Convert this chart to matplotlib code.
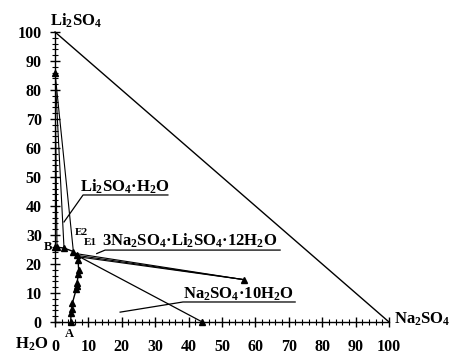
import matplotlib
matplotlib.use("Agg")
import matplotlib.pyplot as plt
from matplotlib.ticker import MultipleLocator

plt.rcParams['font.family'] = ['Liberation Serif', 'DejaVu Serif']
plt.rcParams['font.weight'] = 'bold'
plt.rcParams['mathtext.fontset'] = 'custom'
plt.rcParams['mathtext.rm'] = 'Liberation Serif:bold'
plt.rcParams['mathtext.it'] = 'Liberation Serif:bold'
plt.rcParams['mathtext.bf'] = 'Liberation Serif:bold'
plt.rcParams['mathtext.default'] = 'rm'

# Solution compositions (Na2SO4 %, Li2SO4 %)
sol_na = [4.7, 4.8, 5.0, 5.2, 6.4, 6.5, 6.6, 7.0, 7.1, 6.9, 6.5, 5.5, 2.7, 0.6, 0.0]
sol_li = [0.0, 3.0, 4.5, 6.5, 11.5, 12.5, 13.5, 16.5, 17.8, 21.3, 23.0, 24.3, 25.5, 25.8, 25.8]

# Solid phases
salt_li_h2o = (0.0, 86.0)          # Li2SO4·H2O
salt_double = (56.6, 14.6)         # 3Na2SO4·Li2SO4·12H2O
salt_na_10 = (44.1, 0.0)           # Na2SO4·10H2O

# Tie-line liquid ends
tie_li_na = [0.6, 2.7, 5.5]
tie_li_li = [25.8, 25.5, 24.3]
tie_dbl_na = [6.2, 6.5, 6.8]
tie_dbl_li = [23.6, 23.0, 22.5]
tie_na10_na = [6.5]
tie_na10_li = [23.0]

fig = plt.figure(figsize=(4.51, 3.58), dpi=100)
ax = fig.add_axes([55/451, 36/358, 334/451, 290/358])
ax.set_xlim(0, 100)
ax.set_ylim(0, 100)
for s in ['top', 'right']:
    ax.spines[s].set_visible(False)
for s in ['left', 'bottom']:
    ax.spines[s].set_linewidth(1.0)

ax.xaxis.set_major_locator(MultipleLocator(10))
ax.yaxis.set_major_locator(MultipleLocator(10))
ax.xaxis.set_minor_locator(MultipleLocator(2))
ax.yaxis.set_minor_locator(MultipleLocator(2))
ax.tick_params(which='major', direction='inout', length=7, width=1.0, labelsize=11.5)
ax.tick_params(axis='x', which='major', pad=9)
ax.tick_params(axis='y', which='major', pad=6)
ax.tick_params(which='minor', direction='inout', length=5, width=0.8)
for lab in ax.get_xticklabels() + ax.get_yticklabels():
    lab.set_fontweight('bold')

kw = dict(color='black', lw=1.0, clip_on=False)
# hypotenuse
ax.plot([0, 100], [100, 0], **kw)
# tie lines
for xn, yl in zip(tie_li_na, tie_li_li):
    ax.plot([salt_li_h2o[0], xn], [salt_li_h2o[1], yl], color='black', lw=0.8)
for xn, yl in zip(tie_dbl_na, tie_dbl_li):
    ax.plot([salt_double[0], xn], [salt_double[1], yl], color='black', lw=0.8)
for xn, yl in zip(tie_na10_na, tie_na10_li):
    ax.plot([salt_na_10[0], xn], [salt_na_10[1], yl], color='black', lw=0.9)
# solubility curve
ax.plot(sol_na, sol_li, color='black', lw=1.0, marker='^', ms=5, clip_on=False, zorder=5)
# solid points
for p in [salt_li_h2o, salt_double, salt_na_10]:
    ax.plot([p[0]], [p[1]], marker='^', ms=5, color='black', clip_on=False, zorder=5)

# labels with leaders
fs = 12
ax.plot([2.7, 8.4, 33.8], [34.5, 43.8, 43.8], color='black', lw=0.9)
ax.text(7.5, 45.0, 'Li$_2$SO$_4$·H$_2$O', fontsize=fs, fontweight='bold', ha='left', va='baseline')
ax.plot([12.5, 15.0, 67.4], [23.6, 24.8, 24.8], color='black', lw=0.9)
ax.text(14.0, 26.2, '3Na$_2$SO$_4$·Li$_2$SO$_4$·12H$_2$O', fontsize=fs, fontweight='bold', ha='left', va='baseline')
ax.plot([19.5, 38.3, 71.9], [3.4, 6.9, 6.9], color='black', lw=0.9)
ax.text(38.3, 8.1, 'Na$_2$SO$_4$·10H$_2$O', fontsize=fs, fontweight='bold', ha='left', va='baseline')

# point labels
ax.text(7.9, 31.0, 'E2', fontsize=8, fontweight='bold', ha='center', va='center')
ax.text(10.6, 27.3, 'E1', fontsize=8, fontweight='bold', ha='center', va='center')
ax.text(-0.8, 25.9, 'B', fontsize=9, fontweight='bold', ha='right', va='center', clip_on=False)
ax.text(4.2, -4.0, 'A', fontsize=9, fontweight='bold', ha='center', va='center', clip_on=False)

# vertex labels
ax.text(6.3, 103.8, 'Li$_2$SO$_4$', fontsize=fs, fontweight='bold', ha='center', va='center', clip_on=False)
ax.text(-6.9, -7.6, 'H$_2$O', fontsize=12, fontweight='bold', ha='center', va='center', clip_on=False)
ax.text(101.5, 1.0, 'Na$_2$SO$_4$', fontsize=fs, fontweight='bold', ha='left', va='center', clip_on=False)

fig.savefig('out.png', dpi=100)
